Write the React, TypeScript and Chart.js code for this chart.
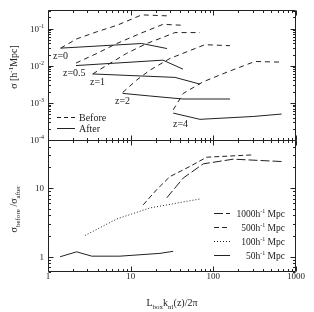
import { useEffect, useRef } from "react";
import { Chart, registerables } from "chart.js";
Chart.register(...registerables);

type P = [number, number];

// Top panel: sigma [h^-1 Mpc] before / after
const z0Before: P[] = [[1.42, 0.0297], [2.24, 0.053], [3.9, 0.082], [6.8, 0.122], [13.6, 0.234], [27.5, 0.22]];
const z0After: P[] = [[1.42, 0.0297], [13.6, 0.0396], [27.5, 0.029]];
const z05Before: P[] = [[2.18, 0.0118], [3.9, 0.0214], [6.8, 0.0396], [13, 0.0735], [24.6, 0.13], [41.7, 0.123]];
const z05After: P[] = [[2.18, 0.0101], [24.6, 0.0141], [42.9, 0.0081]];
const z1Before: P[] = [[3.47, 0.006], [5.6, 0.0115], [8.9, 0.0214], [15.6, 0.0396], [22.6, 0.054], [34.3, 0.078], [68.9, 0.078]];
const z1After: P[] = [[3.47, 0.006], [34.3, 0.00485], [68.9, 0.0032]];
const z2Before: P[] = [[8, 0.0019], [11.8, 0.0041], [17.1, 0.0076], [29.9, 0.0157], [79, 0.0368], [159, 0.0346]];
const z2After: P[] = [[8, 0.0018], [17.1, 0.00153], [42.9, 0.00127], [159, 0.00127]];
const z4Before: P[] = [[32.7, 0.00065], [43.3, 0.0018], [75.5, 0.0037], [151, 0.0069], [318, 0.013], [639, 0.0125]];
const z4After: P[] = [[32.7, 0.00053], [68.9, 0.00036], [304, 0.00043], [670, 0.0005]];

// Bottom panel: sigma_before / sigma_after for box sizes
const ratio1000: P[] = [[27.3, 7.2], [43.3, 14], [75.5, 22.5], [174, 26.3], [670, 24.3]];
const ratio500: P[] = [[14.2, 5.7], [20.6, 9.45], [29.9, 14.7], [39.5, 17.4], [52, 20.6], [83, 28.1], [304, 30.4]];
const ratio100: P[] = [[2.8, 2.04], [6.8, 3.55], [17.1, 5.13], [68.9, 6.93]];
const ratio50: P[] = [[1.4, 1.0], [2.22, 1.18], [3.38, 1.02], [7.4, 1.02], [22.6, 1.12], [32.7, 1.2]];

const xTickLabels = ["1", "10", "100", "1000"];
const xTickValues = [1, 10, 100, 1000];
const topTickExps = [-1, -2, -3, -4];
const botTickValues = [1, 10];
const botTickLabels = ["1", "10"];
const zLabels = ["z=0", "z=0.5", "z=1", "z=2", "z=4"];
const boxLabels = ["1000", "500", "100", "50"];

const INK = "#222";
const FONT = '"Liberation Serif", "DejaVu Serif", serif';

type Seg = { t: string; s?: number; dy?: number };

function richWidth(ctx: CanvasRenderingContext2D, segs: Seg[], base: number) {
  let w = 0;
  for (const g of segs) {
    ctx.font = `${g.s ?? base}px ${FONT}`;
    w += ctx.measureText(g.t).width;
  }
  return w;
}

function drawRich(ctx: CanvasRenderingContext2D, segs: Seg[], x: number, y: number, align: "left" | "center" | "right", base = 10) {
  const w = richWidth(ctx, segs, base);
  let cx = align === "left" ? x : align === "center" ? x - w / 2 : x - w;
  ctx.textAlign = "left";
  ctx.textBaseline = "alphabetic";
  for (const g of segs) {
    ctx.font = `${g.s ?? base}px ${FONT}`;
    ctx.fillText(g.t, cx, y + (g.dy ?? 0));
    cx += ctx.measureText(g.t).width;
  }
}

function logTicks(min: number, max: number) {
  const out: { v: number; major: boolean }[] = [];
  for (let e = Math.floor(Math.log10(min)); e <= Math.ceil(Math.log10(max)); e++) {
    for (let m = 1; m <= 9; m++) {
      const v = m * Math.pow(10, e);
      if (v >= min * 0.9999 && v <= max * 1.0001) out.push({ v, major: m === 1 });
    }
  }
  return out;
}

const framePlugin = {
  id: "frame",
  afterDraw(chart: any) {
    const ctx: CanvasRenderingContext2D = chart.ctx;
    const xs = chart.scales.x;
    const yT = chart.scales.yTop;
    const yB = chart.scales.yBot;
    const { left, right, top, bottom } = chart.chartArea;
    const mid = yT.bottom;
    ctx.save();
    ctx.strokeStyle = INK;
    ctx.fillStyle = INK;
    ctx.lineWidth = 1;
    ctx.setLineDash([]);
    const L = Math.round(left) + 0.5, R = Math.round(right) - 0.5;
    const T = Math.round(top) + 0.5, B = Math.round(bottom) - 0.5, M = Math.round(mid) + 0.5;
    ctx.beginPath();
    ctx.moveTo(L, T); ctx.lineTo(R, T); ctx.lineTo(R, B); ctx.lineTo(L, B); ctx.closePath();
    ctx.moveTo(L, M);
    ctx.lineTo(R, M);
    ctx.stroke();

    const MAJ = 5, MIN = 2.5;
    ctx.beginPath();
    for (const t of logTicks(xs.min, xs.max)) {
      const px = Math.round(xs.getPixelForValue(t.v)) + 0.5;
      const len = t.major ? MAJ : MIN;
      ctx.moveTo(px, T); ctx.lineTo(px, T + len);
      ctx.moveTo(px, M); ctx.lineTo(px, M - len);
      ctx.moveTo(px, M); ctx.lineTo(px, M + len);
      ctx.moveTo(px, B); ctx.lineTo(px, B - len);
    }
    for (const sc of [yT, yB]) {
      for (const t of logTicks(sc.min, sc.max)) {
        const py = Math.round(sc.getPixelForValue(t.v)) + 0.5;
        const len = t.major ? MAJ : MIN;
        ctx.moveTo(L, py); ctx.lineTo(L + len, py);
        ctx.moveTo(R, py); ctx.lineTo(R - len, py);
      }
    }
    ctx.stroke();

    // tick labels
    xTickValues.forEach((v, i) => {
      drawRich(ctx, [{ t: xTickLabels[i] }], xs.getPixelForValue(v), bottom + 7, "center", 9);
    });
    topTickExps.forEach((e) => {
      const py = yT.getPixelForValue(Math.pow(10, e));
      drawRich(ctx, [{ t: "10" }, { t: "-" + Math.abs(e), s: 6, dy: -4 }], left - 4, py + 3, "right", 9);
    });
    botTickValues.forEach((v, i) => {
      const py = yB.getPixelForValue(v);
      drawRich(ctx, [{ t: botTickLabels[i] }], left - 4, py + 3, "right", 9);
    });

    // x title
    drawRich(ctx, [
      { t: "L" }, { t: "box", s: 7, dy: 2.5 }, { t: "k" }, { t: "nl", s: 7, dy: 2.5 }, { t: "(z)/2π" },
    ], (left + right) / 2, bottom + 34, "center", 10);

    // y titles
    ctx.save();
    ctx.translate(17, (top + mid) / 2 - 8);
    ctx.rotate(-Math.PI / 2);
    drawRich(ctx, [{ t: "σ [h" }, { t: "-1", s: 7, dy: -4 }, { t: "Mpc]" }], 0, 0, "center", 10);
    ctx.restore();
    ctx.save();
    ctx.translate(17, (mid + bottom) / 2 + 3);
    ctx.rotate(-Math.PI / 2);
    drawRich(ctx, [{ t: "σ" }, { t: "before", s: 7, dy: 3 }, { t: " /σ" }, { t: "after", s: 7, dy: 3 }], 0, 0, "center", 10);
    ctx.restore();

    // z labels
    const zPos: P[] = [[5, 45], [15, 62.7], [42, 71], [67, 90], [125, 113.3]];
    zLabels.forEach((s, i) => {
      drawRich(ctx, [{ t: s }], left + zPos[i][0], top + zPos[i][1] + 3.5, "left", 10);
    });

    // top legend
    const lx0 = left + 9, lx1 = left + 27;
    ctx.beginPath();
    ctx.setLineDash([4, 3]);
    ctx.moveTo(lx0, top + 107.5); ctx.lineTo(lx1, top + 107.5);
    ctx.stroke();
    ctx.beginPath();
    ctx.setLineDash([]);
    ctx.moveTo(lx0, top + 118.5); ctx.lineTo(lx1, top + 118.5);
    ctx.stroke();
    drawRich(ctx, [{ t: "Before" }], lx1 + 4, top + 111, "left", 10);
    drawRich(ctx, [{ t: "After" }], lx1 + 4, top + 122, "left", 10);

    // bottom legend
    const dashes = [[9, 3], [5, 3], [1, 2], []];
    boxLabels.forEach((s, i) => {
      const y = mid + 73.5 + i * 14;
      ctx.beginPath();
      ctx.setLineDash(dashes[i]);
      ctx.moveTo(right - 82, y); ctx.lineTo(right - 66, y);
      ctx.stroke();
      drawRich(ctx, [{ t: s + "h" }, { t: "-1", s: 6, dy: -4 }, { t: " Mpc" }], right - 11, y + 3.3, "right", 9.5);
    });
    ctx.restore();
  },
};

function ds(data: P[], yAxisID: string, dash: number[]) {
  return {
    data: data.map(([x, y]) => ({ x, y })),
    yAxisID,
    xAxisID: "x",
    borderColor: INK,
    borderWidth: 1,
    borderDash: dash,
    pointRadius: 0,
    fill: false,
    tension: 0,
  };
}

export default function App() {
  const ref = useRef<HTMLCanvasElement | null>(null);
  useEffect(() => {
    if (!ref.current) return;
    const BEFORE = [5, 4];
    const chart = new Chart(ref.current, {
      type: "line",
      data: {
        datasets: [
          ds(z0Before, "yTop", BEFORE), ds(z0After, "yTop", []),
          ds(z05Before, "yTop", BEFORE), ds(z05After, "yTop", []),
          ds(z1Before, "yTop", BEFORE), ds(z1After, "yTop", []),
          ds(z2Before, "yTop", BEFORE), ds(z2After, "yTop", []),
          ds(z4Before, "yTop", BEFORE), ds(z4After, "yTop", []),
          ds(ratio1000, "yBot", [9, 3]),
          ds(ratio500, "yBot", [5, 3]),
          ds(ratio100, "yBot", [1, 2]),
          ds(ratio50, "yBot", []),
        ] as any,
      },
      options: {
        animation: false,
        responsive: false,
        devicePixelRatio: 1,
        layout: { padding: { left: 0, right: 18, top: 10, bottom: 0 } },
        plugins: { legend: { display: false }, tooltip: { enabled: false } },
        scales: {
          x: {
            type: "logarithmic", min: 1, max: 1000, position: "bottom",
            ticks: { display: false }, grid: { display: false }, border: { display: false },
            afterFit(s: any) { s.height = 40; },
          },
          yBot: {
            type: "logarithmic", min: 0.6, max: 50, position: "left",
            stack: "panels", stackWeight: 132,
            ticks: { display: false }, grid: { display: false }, border: { display: false },
            afterFit(s: any) { s.width = 48; },
          },
          yTop: {
            type: "logarithmic", min: 1e-4, max: Math.pow(10, -0.5), position: "left",
            stack: "panels", stackWeight: 130,
            ticks: { display: false }, grid: { display: false }, border: { display: false },
            afterFit(s: any) { s.width = 48; },
          },
        } as any,
      },
      plugins: [framePlugin],
    });
    return () => chart.destroy();
  }, []);
  return (
    <div style={{ position: "fixed", left: 0, top: 0, width: 314, height: 312, background: "#fff" }}>
      <canvas ref={ref} width={314} height={312} style={{ width: 314, height: 312, display: "block" }} />
    </div>
  );
}
